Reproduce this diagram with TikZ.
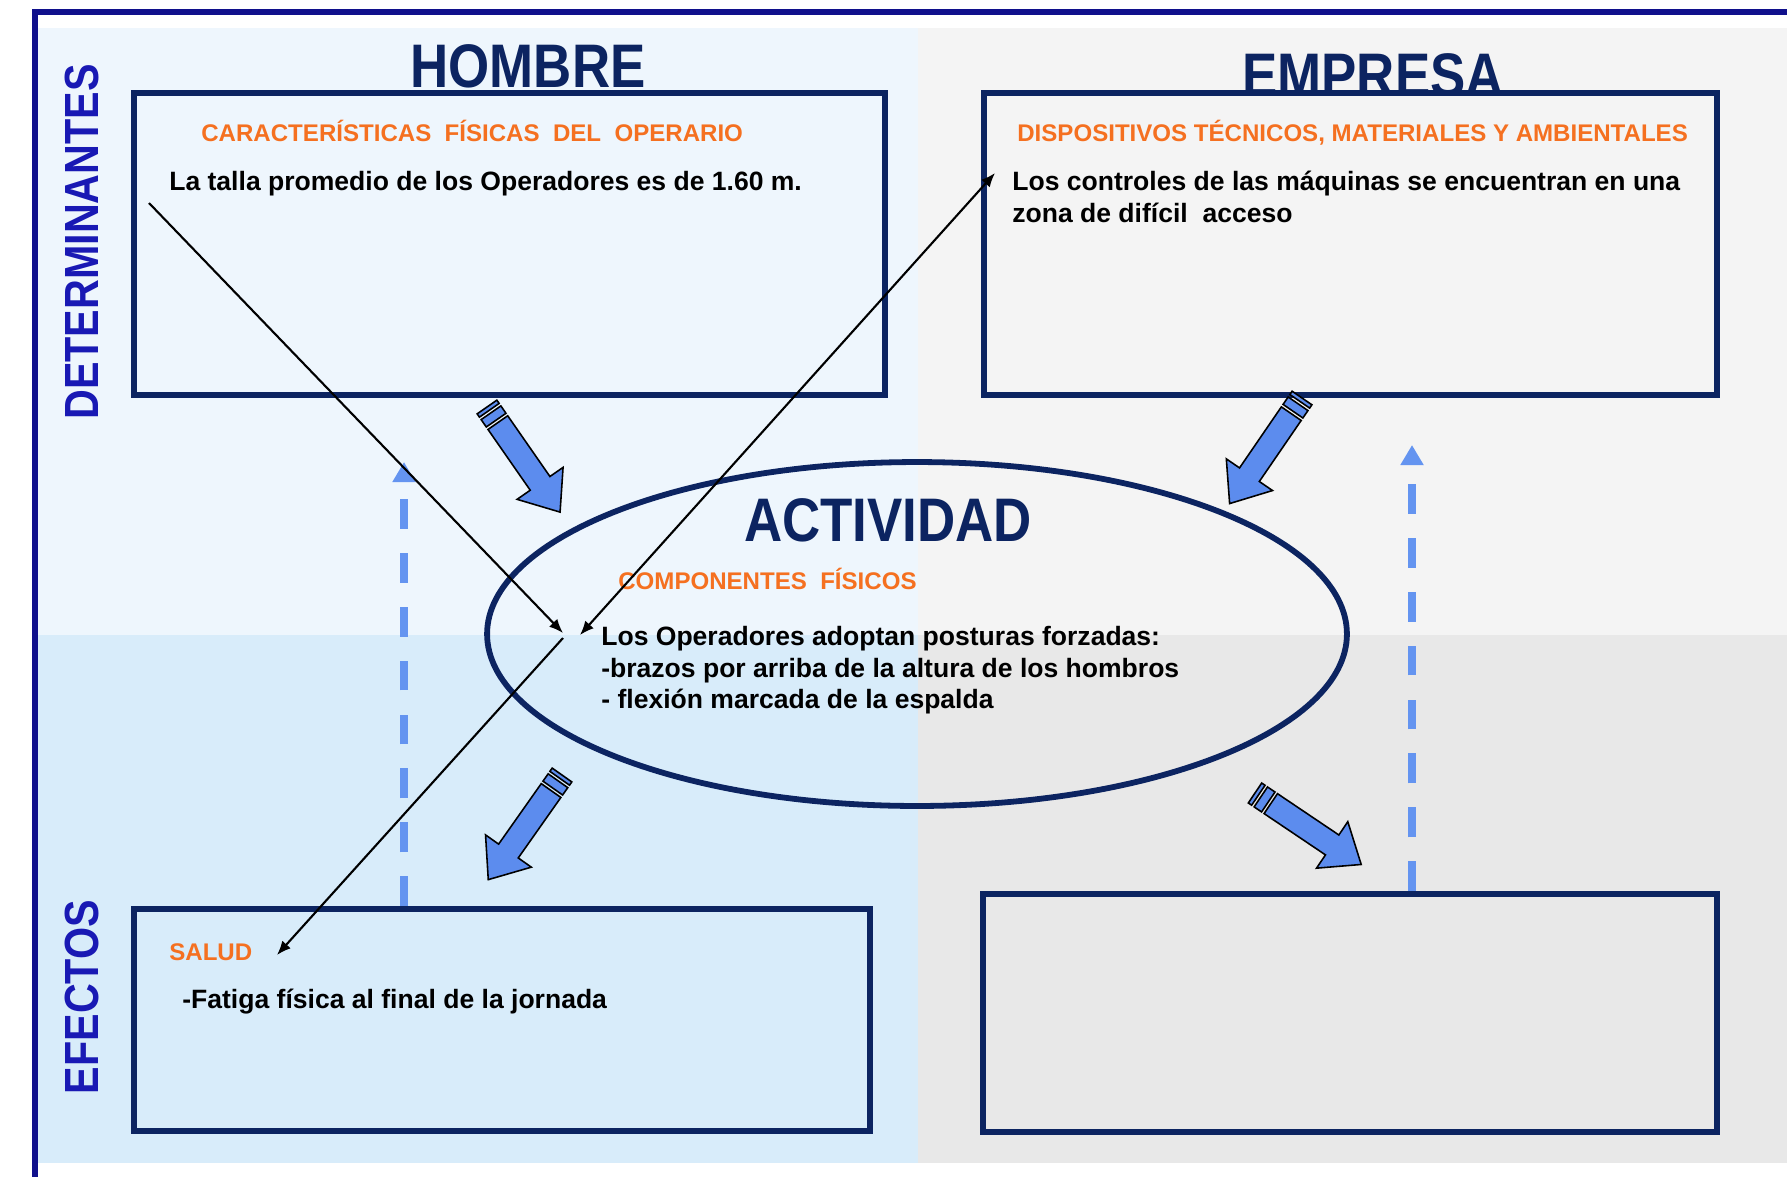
\documentclass[tikz,border=0pt]{standalone}
\usepackage{fontspec}
\setmainfont{Liberation Sans}
\newfontfamily\headfont{Liberation Sans}[FakeStretch=0.86]
\usetikzlibrary{positioning}
\usetikzlibrary{arrows.meta}
\usetikzlibrary{shapes.geometric}
\usetikzlibrary{calc}

\definecolor{framecol}{RGB}{16,16,140}
\definecolor{navy}{RGB}{12,36,97}
\definecolor{sideblue}{RGB}{25,25,180}
\definecolor{orangetxt}{RGB}{245,112,32}
\definecolor{bgtl}{RGB}{238,246,253}
\definecolor{bgtr}{RGB}{244,244,244}
\definecolor{bgbl}{RGB}{216,236,250}
\definecolor{bgbr}{RGB}{232,232,232}
\definecolor{arrowblue}{RGB}{92,140,238}
\definecolor{dashblue}{RGB}{100,148,240}

\tikzset{
  box/.style={draw=navy, line width=3.2pt, inner sep=0pt},
  headtxt/.style={text=navy, font=\headfont\bfseries\fontsize{35}{42}\selectfont, inner sep=0pt, anchor=base},
  sidetxt/.style={text=sideblue, font=\headfont\bfseries\fontsize{27.3}{32}\selectfont, rotate=90, inner sep=0pt},
  subtxt/.style={text=orangetxt, font=\bfseries\fontsize{13.7}{16}\selectfont, inner sep=0pt, anchor=base west},
  bodytxt/.style={text=black, font=\bfseries\fontsize{15.1}{18}\selectfont, inner sep=0pt, anchor=base west},
  thinarrow/.style={line width=1.2pt, -{Latex[length=8pt,width=6.5pt]}},
  bothtips/.style={{Latex[length=8pt,width=6.5pt]}-{Latex[length=8pt,width=6.5pt]}},
  dasharrow/.style={dashblue, line width=4.6pt, dash pattern=on 17pt off 13.7pt, -{Triangle[length=11.4pt,width=12.5pt]}},
  fatarrow/.style={fill=arrowblue, draw=black, line width=0.9pt, line join=miter},
}

% striped block arrow from #1 towards #2
\newcommand{\stripedarrow}[2]{%
  \pgfmathanglebetweenpoints{\pgfpointanchor{#1}{center}}{\pgfpointanchor{#2}{center}}%
  \let\arrowangle\pgfmathresult
  \begin{scope}[shift={(#1)}, rotate=\arrowangle]
    \filldraw[fatarrow] (0,-12) -- (4,-12) -- (4,12) -- (0,12) -- cycle
      (7,-12) -- (16,-12) -- (16,12) -- (7,12) -- cycle
      (19,-12) -- (93,-12) -- (93,-28) -- (128,0) -- (93,28) -- (93,12) -- (19,12) -- cycle;
  \end{scope}}

\begin{document}
\begin{tikzpicture}[x=0.02cm, y=-0.02cm]
    \useasboundingbox (0,0) rectangle (1787,1177);
    % background
    \fill[white] (0,0) rectangle (1787,1177);
    \fill[bgtl] (38,28) rectangle (918,635);
    \fill[bgtr] (918,28) rectangle (1787,635);
    \fill[bgbl] (38,635) rectangle (918,1163);
    \fill[bgbr] (918,635) rectangle (1787,1163);
    \draw[framecol, line width=3.4pt] (1787,12) -- (35,12) -- (35,1177);

    \node[sidetxt] (determ) at (82,242) {DETERMINANTES};
    \node[sidetxt] (efectos) at (82,997) {EFECTOS};

    \node[headtxt] (hombre) at (528,87) {HOMBRE};
    \node[headtxt] (empresa) at (1373,96) {EMPRESA};

    % boxes
    \node[box, fill=bgtl, minimum width=15.02cm, minimum height=6.04cm] (boxH) at (509.5,244) {};
    \node[box, fill=bgtr, minimum width=14.66cm, minimum height=6.04cm] (boxE) at (1350.5,244) {};
    \node[box, fill=bgbl, minimum width=14.72cm, minimum height=4.44cm] (boxS) at (502,1020) {};
    \node[box, fill=bgbr, minimum width=14.68cm, minimum height=4.76cm] (boxR) at (1350,1013) {};
    \node[ellipse, draw=navy, line width=3.3pt, inner sep=0pt,
          minimum width=17.2cm, minimum height=6.88cm] (activ) at (917,634) {};

    % texts
    \node[subtxt] (caract) at (201,141) {CARACTERÍSTICAS\ \ FÍSICAS\ \ DEL\ \ OPERARIO};
    \node[bodytxt] (talla) at (169,190) {La talla promedio de los Operadores es de 1.60 m.};
    \node[subtxt] (dispos) at (1017,141) {DISPOSITIVOS TÉCNICOS, MATERIALES Y AMBIENTALES};
    \node[bodytxt] (ctrlA) at (1012,190) {Los controles de las máquinas se encuentran en una};
    \node[bodytxt] (ctrlB) at (1012,222) {zona de difícil\ \ acceso};
    \node[headtxt] (actividad) at (888,541) {ACTIVIDAD};
    \node[subtxt] (compon) at (618,589) {COMPONENTES\ \ FÍSICOS};
    \node[bodytxt] (postA) at (601,645) {Los Operadores adoptan posturas forzadas:};
    \node[bodytxt] (postB) at (601,677) {-brazos por arriba de la altura de los hombros};
    \node[bodytxt] (postC) at (601,708) {- flexión marcada de la espalda};
    \node[subtxt] (salud) at (169,960) {SALUD};
    \node[bodytxt] (fatiga) at (182,1008) {-Fatiga física al final de la jornada};

    % block arrows
    \coordinate (fa1s) at (487,407);  \coordinate (fa1e) at (560,512);
    \coordinate (fa2s) at (1302,398); \coordinate (fa2e) at (1230,503);
    \coordinate (fa3s) at (562,775);  \coordinate (fa3e) at (488,880);
    \coordinate (fa4s) at (1255,793); \coordinate (fa4e) at (1362,865);
    \stripedarrow{fa1s}{fa1e}
    \stripedarrow{fa2s}{fa2e}
    \stripedarrow{fa3s}{fa3e}
    \stripedarrow{fa4s}{fa4e}

    % dashed feedback arrows
    \coordinate (upL) at (404,462);
    \coordinate (upR) at (1412,445);
    \draw[dasharrow] (upL |- boxS.north) -- (upL);
    \draw[dasharrow] (upR |- boxR.north) -- (upR);

    % thin arrows
    \coordinate (tallaP) at (149,203);
    \coordinate (actL) at (563,633);
    \coordinate (actR) at (580,635);
    \coordinate (actS) at (563,638);
    \coordinate (ctrlP) at (995,173);
    \coordinate (saludP) at (277,955);
    \draw[thinarrow] (tallaP) -- (actL);
    \draw[thinarrow, bothtips] (actR) -- (ctrlP);
    \draw[thinarrow] (actS) -- (saludP);
\end{tikzpicture}
\end{document}
